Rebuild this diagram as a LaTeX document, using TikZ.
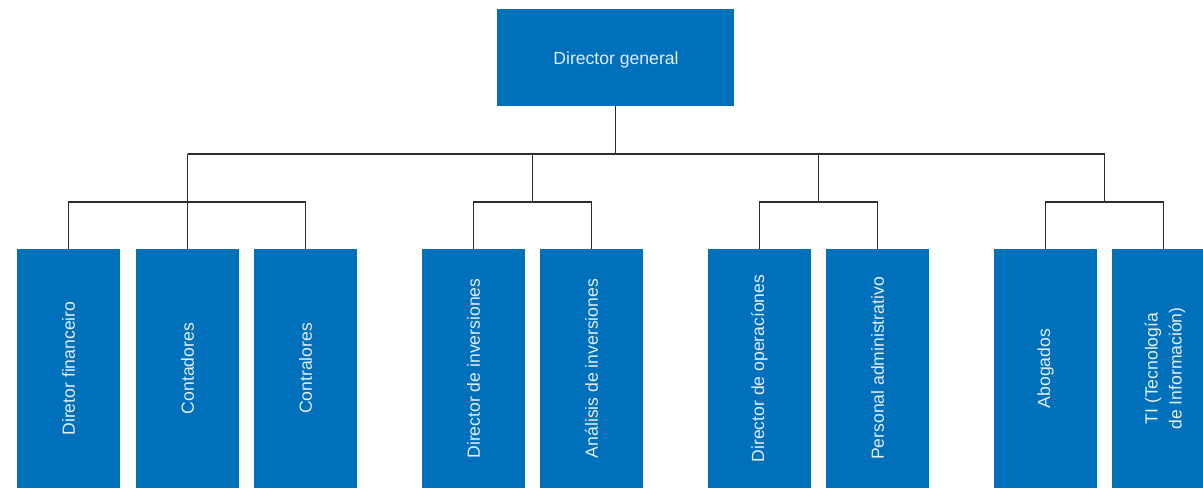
\documentclass[tikz,border=0pt]{standalone}
\usepackage{fontspec}
\setmainfont{Liberation Sans}
\usetikzlibrary{calc}
\definecolor{boxblue}{HTML}{0070BA}
\definecolor{txtcol}{HTML}{E4EEF7}
\definecolor{linecol}{HTML}{2E2E2E}
\tikzset{
  unitbox/.style={rectangle, fill=boxblue, draw=none, inner sep=0pt, minimum width=103pt, minimum height=239pt},
  headbox/.style={rectangle, fill=boxblue, draw=none, inner sep=0pt, minimum width=237pt, minimum height=97pt},
  hlabel/.style={text=txtcol, inner sep=0pt, font=\fontsize{17.6}{22}\selectfont},
  vlabel/.style={rotate=90, text=txtcol, inner sep=0pt, align=center, font=\fontsize{17.6}{24}\selectfont},
  conn/.style={draw=linecol, line width=1.3pt}
}
\begin{document}
\begin{tikzpicture}[x=1pt,y=-1pt]
\useasboundingbox (0,0) rectangle (1203,488);
\clip (0,0) rectangle (1203,488);
\fill[white] (0,0) rectangle (1203,488);

\node[headbox] (dg) at (615.5,57.5) {};
\node[hlabel] (dgt) at (616,59.5) {Director general};

\node[unitbox] (b1) at (68.5,368.5) {};
\node[unitbox] (b2) at (187.5,368.5) {};
\node[unitbox] (b3) at (305.5,368.5) {};
\node[unitbox] (b4) at (473.5,368.5) {};
\node[unitbox] (b5) at (591.5,368.5) {};
\node[unitbox] (b6) at (759.5,368.5) {};
\node[unitbox] (b7) at (877.5,368.5) {};
\node[unitbox] (b8) at (1045.5,368.5) {};
\node[unitbox] (b9) at (1163.5,368.5) {};

\node[vlabel] (t1) at (b1.center) {Diretor financeiro};
\node[vlabel] (t2) at (b2.center) {Contadores};
\node[vlabel] (t3) at (b3.center) {Contralores};
\node[vlabel] (t4) at (b4.center) {Director de inversiones};
\node[vlabel] (t5) at (b5.center) {Análisis de inversiones};
\node[vlabel] (t6) at (b6.center) {Director de operacíones};
\node[vlabel] (t7) at (b7.center) {Personal administrativo};
\node[vlabel] (t8) at (b8.center) {Abogados};
\node[vlabel] (t9) at (1165,368.5) {TI (Tecnología\\ de Información)};

\coordinate (bus) at (615.5,154);
\coordinate (sub) at (0,202);
\path ($(b4.north)!.5!(b5.north)$) coordinate (m2);
\path ($(b6.north)!.5!(b7.north)$) coordinate (m3);
\path ($(b8.north)!.5!(b9.north)$) coordinate (m4);

\draw[conn] (dg.south) -- (bus);
\draw[conn] (b2.north |- bus) -- (m4 |- bus);
\draw[conn] (b2.north |- bus) -- (b2.north);
\draw[conn] (m2 |- bus) -- (m2 |- sub);
\draw[conn] (m3 |- bus) -- (m3 |- sub);
\draw[conn] (m4 |- bus) -- (m4 |- sub);

\draw[conn] (b1.north) -- (b1.north |- sub) -- (b3.north |- sub) -- (b3.north);
\draw[conn] (b4.north) -- (b4.north |- sub) -- (b5.north |- sub) -- (b5.north);
\draw[conn] (b6.north) -- (b6.north |- sub) -- (b7.north |- sub) -- (b7.north);
\draw[conn] (b8.north) -- (b8.north |- sub) -- (b9.north |- sub) -- (b9.north);
\end{tikzpicture}
\end{document}
